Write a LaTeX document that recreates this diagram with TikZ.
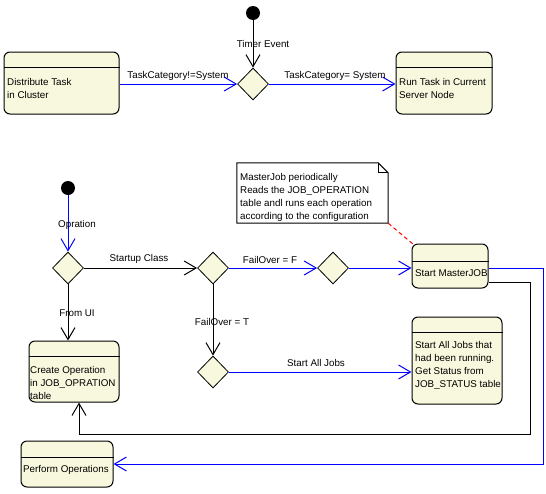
\documentclass[tikz,border=0pt]{standalone}
\usepackage{fontspec}
\setmainfont{Liberation Sans}
\usetikzlibrary{arrows.meta,shapes.geometric,calc}
\definecolor{boxfill}{RGB}{248,248,222}
\begin{document}
\begin{tikzpicture}[x=1pt,y=-1pt,
  every node/.style={font=\fontsize{9.8}{13}\selectfont},
  sbox/.style={draw, fill=boxfill, rounded corners=6pt, line width=1pt, inner sep=0pt},
  dec/.style={draw, fill=boxfill, diamond, inner sep=0pt, minimum width=31pt, minimum height=32pt, line width=0.8pt},
  startdot/.style={circle, fill=black, inner sep=0pt, minimum size=14pt},
  lbl/.style={inner sep=0pt},
  txt/.style={inner sep=0pt, anchor=west, align=left},
  barb/.style={-{Straight Barb[length=12pt,width=14pt]}, line width=1pt},
  bluec/.style={barb, blue},
  blackc/.style={barb, black},
  hdr/.style={line width=1pt},
]
\useasboundingbox[fill=white] (0,0) rectangle (546,493);

% ---------- top part ----------
\node[startdot] (dot1) at (253,13) {};
\node[dec] (d1) at (253,84) {};
\node[sbox, minimum width=115pt, minimum height=62pt] (dist) at (61.5,83) {};
\draw[hdr] (dist.west |- 0,67) -- (dist.east |- 0,67);
\node[txt] (distt) at (7,88.5) {Distribute Task\\in Cluster};
\node[sbox, minimum width=96pt, minimum height=62pt] (run) at (444,83) {};
\draw[hdr] (run.west |- 0,67) -- (run.east |- 0,67);
\node[txt] (runt) at (399,88.5) {Run Task in Current\\Server Node};

\draw[blackc] (dot1) -- (d1.north);
\node[lbl] (ltimer) at (263,44) {Timer Event};
\draw[bluec] (dist.east |- d1.west) -- (d1.west);
\node[lbl] (ltc1) at (178,76) {TaskCategory!=System};
\draw[bluec] (d1.east) -- (run.west |- d1.east);
\node[lbl] (ltc2) at (335,76) {TaskCategory= System};

% ---------- lower part ----------
\node[startdot] (dot2) at (68,188) {};
\node[dec] (dA) at (68,268) {};
\node[dec] (dB) at (213,268) {};
\node[dec] (dC) at (333,268) {};
\node[dec] (dD) at (213,372) {};

\node[sbox, minimum width=76pt, minimum height=44pt] (master) at (450,266) {};
\draw[hdr] (master.west |- 0,261) -- (master.east |- 0,261);
\node[txt] (mastert) at (415,273) {Start MasterJOB};

\node[sbox, minimum width=90pt, minimum height=87pt] (startall) at (457,360.5) {};
\draw[hdr] (startall.west |- 0,332) -- (startall.east |- 0,332);
\node[txt] (startallt) at (415,365.5) {Start All Jobs that\\had been running.\\Get Status from\\JOB\_STATUS table};

\node[sbox, minimum width=90pt, minimum height=61pt] (create) at (74,371.5) {};
\draw[hdr] (create.west |- 0,356) -- (create.east |- 0,356);
\node[txt] (createt) at (30,383) {Create Operation\\in JOB\_OPRATION\\table};

\node[sbox, minimum width=92pt, minimum height=46pt] (perform) at (67,464) {};
\draw[hdr] (perform.west |- 0,457) -- (perform.east |- 0,457);
\node[txt] (performt) at (23,469.5) {Perform Operations};

% note
\node[minimum width=151pt, minimum height=60pt, inner sep=0pt] (note) at (312.5,193) {};
\draw[fill=white, line width=1pt] (note.south west) -- (note.south east) -- ($(note.north east)+(0,10)$) -- ($(note.north east)+(-10,0)$) -- (note.north west) -- cycle;
\draw[line width=0.8pt] ($(note.north east)+(-10,0)$) -- ($(note.north east)+(-10,10)$) -- ($(note.north east)+(0,10)$);
\node[txt] (notet) at (240,197.5) {MasterJob periodically\\Reads the JOB\_OPERATION\\table andl runs each operation\\according to the configuration};
\draw[red, dashed, dash pattern=on 4pt off 3pt, line width=1pt] (note.south east) -- ([shift={(2pt,-1pt)}]master.north west);

% connectors
\draw[bluec] (dot2) -- (dA.north);
\node[lbl] (lopr) at (77,225) {Opration};
\draw[blackc] (dA.east) -- (dB.west);
\node[lbl] (lstart) at (139,259) {Startup Class};
\draw[bluec] (dB.east) -- (dC.west);
\node[lbl] (lfof) at (270,260) {FailOver = F};
\draw[bluec] (dC.east) -- (master.west |- dC.east);
\draw[blackc] (dA.south) -- (dA.south |- create.north);
\node[lbl] (lui) at (77,313) {From UI};
\draw[blackc] (dB.south) -- (dD.north);
\node[lbl] (lfot) at (222,322) {FailOver = T};
\draw[bluec] (dD.east) -- (startall.west |- dD.east);
\node[lbl] (lsaj) at (316,363) {Start All Jobs};

\coordinate (kR) at (530,434);
\coordinate (kL) at (79,434);
\draw[blackc] (master.east |- 0,282) -| (kR) -- (kL) -- (kL |- create.south);
\coordinate (bR) at (543,464);
\draw[bluec] (master.east |- 0,268) -| (bR) -- (perform.east);
\end{tikzpicture}
\end{document}
